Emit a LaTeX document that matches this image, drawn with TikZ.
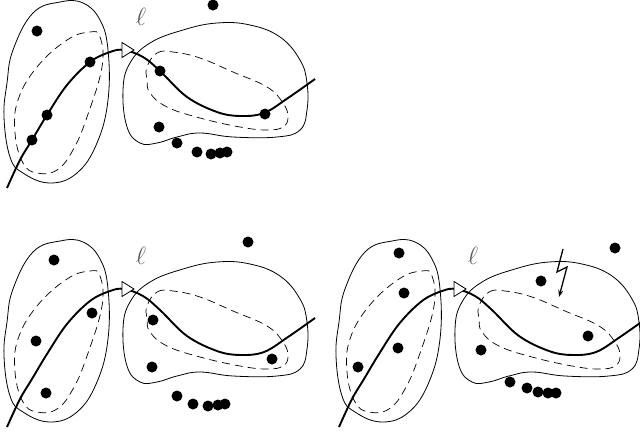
\documentclass[tikz,border=0pt]{standalone}
\usetikzlibrary{arrows.meta}
\begin{document}
\begin{tikzpicture}[x=1pt,y=-1pt,
  blob/.style={line width=0.8pt},
  inner/.style={line width=0.7pt, dash pattern=on 8pt off 5pt},
  lcurve/.style={line width=1.9pt},
  bolt/.style={line width=1.3pt, -{Stealth[length=7pt,width=5pt]}},
  panel/.pic={
    \draw[blob] plot[smooth cycle, tension=0.7] coordinates {(83,3) (100,20) (108,50) (108,100) (97,143) (77,173) (50,183) (23,173) (10,157) (4,117) (7,83) (13,50) (33,13) (60,2)};
    \draw[inner] plot[smooth cycle, tension=0.7] coordinates {(90,32) (100,37) (102,67) (87,117) (73,150) (57,170) (37,173) (23,163) (15,133) (18,100) (37,67) (67,40)};
    \draw[blob] plot[smooth cycle, tension=0.7] coordinates {(123,90) (127,127) (140,143) (157,143) (177,137) (200,133) (233,137) (277,137) (300,130) (307,110) (307,83) (300,60) (280,37) (250,25) (217,23) (183,30) (150,43) (130,63)};
    \draw[inner] plot[smooth cycle, tension=0.7] coordinates {(147,67) (157,53) (173,52) (200,58) (233,72) (267,87) (283,103) (288,117) (283,127) (267,130) (240,127) (200,118) (167,107) (150,93) (147,80)};
    \draw[lcurve] plot[smooth, tension=0.6] coordinates {(7,188) (20,160) (32,140) (47,115) (67,85) (90,62) (110,52) (124,50) (143,57) (160,71) (187,97) (217,112) (240,116) (264,113) (288,98) (315,79)};
    \draw[line width=0.8pt, fill=white] (122,42.5) -- (134,50) -- (122,57.5) -- cycle;
    \node[text=black!65, font=\fontsize{26}{26}\selectfont] (ell) at (141,17) {$\ell$};
  }]
\useasboundingbox (0,0) rectangle (640,434);

% panel 1
\pic (pa) at (0,0) {panel};
\foreach \p/\q in {37/31, 90/62, 47/115, 32/140, 160/71, 265/114, 159/127, 177/143, 197/152, 211/154, 220/153, 227/152, 213/5}
  \fill (\p,\q) circle (5.5);

% panel 2
\pic (pb) at (0,239) {panel};
\begin{scope}[shift={(0,239)}]
\foreach \p/\q in {248/3, 54/21, 92/74, 36/102, 46/154, 153/81, 152/128, 272/120, 177/157, 193/165, 208/167, 218/166, 225/165}
  \fill (\p,\q) circle (5.5);
\end{scope}

% panel 3
\pic (pc) at (332,239) {panel};
\begin{scope}[shift={(332,239)}]
\foreach \p/\q in {67/14, 72/54, 66/109, 26/128, 209/42, 283/9, 256/97, 149/111, 178/143, 195/149, 206/153, 216/154, 224/154}
  \fill (\p,\q) circle (5.5);
\coordinate (b1) at (231,10);
\coordinate (b4) at (227,58);
\draw[bolt] (b1) -- (225,33) -- (235,28) -- (b4);
\end{scope}
\end{tikzpicture}
\end{document}
